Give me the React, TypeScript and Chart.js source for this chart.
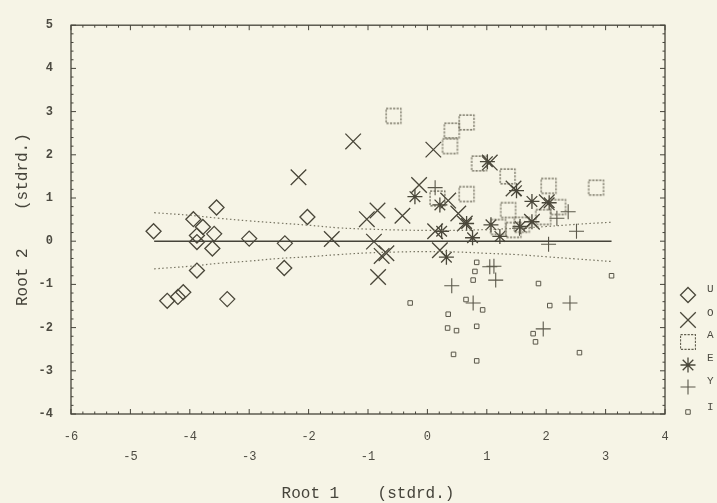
import React, { useEffect, useRef } from "react";
import { Chart, registerables } from "chart.js";

Chart.register(...registerables);

// ---- Data ----
const uX = [-4.61, -3.94, -3.78, -3.55, -3.88, -3.88, -3.59, -3.62, -3.0, -2.4, -2.02, -3.88, -2.41, -4.38, -4.2, -4.11, -3.37];
const uY = [0.23, 0.51, 0.33, 0.78, 0.13, -0.02, 0.17, -0.17, 0.06, -0.05, 0.56, -0.68, -0.62, -1.38, -1.29, -1.18, -1.34];

const oX = [-1.25, -2.17, -1.61, -1.02, -0.84, -0.42, -0.9, -0.77, -0.69, -0.83, -0.14, 0.1, 0.13, 0.21, 0.35, 0.52, 0.63, 1.45, 1.76, 2.01, 1.05];
const oY = [2.31, 1.48, 0.05, 0.51, 0.71, 0.59, -0.01, -0.34, -0.28, -0.83, 1.3, 2.12, 0.23, -0.21, 0.94, 0.64, 0.41, 1.22, 0.45, 0.9, 1.82];

const aX = [-0.57, 0.41, 0.66, 0.38, 0.87, 1.35, 0.66, 0.17, 1.36, 2.04, 2.84, 2.2, 1.45, 1.19, 1.95, 1.59];
const aY = [2.9, 2.56, 2.75, 2.2, 1.8, 1.5, 1.09, 0.99, 0.72, 1.28, 1.24, 0.79, 0.26, 0.33, 0.56, 0.38];

const eX = [-0.21, 0.21, 0.24, 0.32, 0.66, 0.76, 1.01, 1.07, 1.22, 1.5, 1.76, 2.05, 1.76, 1.56];
const eY = [1.03, 0.84, 0.23, -0.37, 0.41, 0.08, 1.84, 0.38, 0.11, 1.17, 0.92, 0.89, 0.45, 0.34];

const yX = [0.13, 2.18, 2.37, 2.51, 2.04, 1.05, 1.12, 0.41, 1.15, 0.77, 2.4, 1.95, 1.55];
const yY = [1.24, 0.53, 0.68, 0.23, -0.07, -0.59, -0.58, -1.03, -0.9, -1.43, -1.43, -2.03, 0.3];

const iX = [0.83, 0.8, 0.77, 1.87, 3.1, -0.29, 0.65, 0.93, 2.06, 0.35, 0.34, 0.49, 0.83, 1.78, 1.82, 0.44, 0.83, 2.56];
const iY = [-0.49, -0.7, -0.9, -0.98, -0.8, -1.43, -1.35, -1.59, -1.49, -1.69, -2.01, -2.07, -1.97, -2.14, -2.33, -2.62, -2.77, -2.58];

// regression line and confidence band
const lineX = [-4.6, 3.1];
const lineY = [0, 0];
const bandX = [-4.6, -4, -3.5, -3, -2.5, -2, -1.5, -1, -0.5, 0, 0.5, 1, 1.5, 2, 2.5, 3.1];
const bandUpper = [0.66, 0.6, 0.53, 0.47, 0.42, 0.37, 0.31, 0.28, 0.26, 0.25, 0.25, 0.27, 0.3, 0.34, 0.39, 0.44];
const bandLower = [-0.64, -0.58, -0.51, -0.46, -0.4, -0.36, -0.31, -0.27, -0.25, -0.24, -0.25, -0.28, -0.31, -0.36, -0.41, -0.47];

const groupLabels = ["U", "O", "A", "E", "Y", "I"];
const xTickValues = [-6, -5, -4, -3, -2, -1, 0, 1, 2, 3, 4];
const yTickValues = [5, 4, 3, 2, 1, 0, -1, -2, -3, -4];

const BG = "#f6f4e6";
const INK = "#4a473a";
const TEXT = "#4d4b42";

const pts = (xs: number[], ys: number[]) => xs.map((x, i) => ({ x, y: ys[i] }));

const markerDefs = [
  { style: "rectRot", r: 7.5, color: INK, w: 1.3 },
  { style: "crossRot", r: 11, color: INK, w: 1.3 },
  { style: "dashRect", r: 10.5, color: "#625f4f", w: 1.1 },
  { style: "star", r: 7.5, color: INK, w: 1.3 },
  { style: "cross", r: 7.5, color: "#5a574a", w: 1.1 },
  { style: "rect", r: 3.2, color: "#5a574a", w: 1 },
];

function drawMarker(ctx: CanvasRenderingContext2D, style: string, x: number, y: number, r: number) {
  ctx.beginPath();
  const d = r * Math.SQRT1_2;
  if (style === "rectRot") {
    ctx.moveTo(x, y - r);
    ctx.lineTo(x + r, y);
    ctx.lineTo(x, y + r);
    ctx.lineTo(x - r, y);
    ctx.closePath();
  } else if (style === "crossRot") {
    ctx.moveTo(x - d, y - d);
    ctx.lineTo(x + d, y + d);
    ctx.moveTo(x - d, y + d);
    ctx.lineTo(x + d, y - d);
  } else if (style === "rect" || style === "dashRect") {
    if (style === "dashRect") ctx.setLineDash([2.2, 1.3]);
    ctx.rect(x - d, y - d, 2 * d, 2 * d);
  } else if (style === "star") {
    ctx.moveTo(x - d, y - d);
    ctx.lineTo(x + d, y + d);
    ctx.moveTo(x - d, y + d);
    ctx.lineTo(x + d, y - d);
    ctx.moveTo(x, y - r);
    ctx.lineTo(x, y + r);
    ctx.moveTo(x - r, y);
    ctx.lineTo(x + r, y);
  } else if (style === "cross") {
    ctx.moveTo(x, y - r);
    ctx.lineTo(x, y + r);
    ctx.moveTo(x - r, y);
    ctx.lineTo(x + r, y);
  }
  ctx.stroke();
  ctx.setLineDash([]);
}

function makeDashedSquare(r: number, color: string, w: number): HTMLCanvasElement {
  const size = Math.ceil(2 * r * Math.SQRT1_2 + 4);
  const c = document.createElement("canvas");
  c.width = size;
  c.height = size;
  const g = c.getContext("2d")!;
  g.strokeStyle = color;
  g.lineWidth = w;
  drawMarker(g, "dashRect", size / 2, size / 2, r);
  return c;
}

const framePlugin = {
  id: "frameTicks",
  afterDraw(chart: any) {
    const { ctx, chartArea } = chart;
    const { left, right, top, bottom } = chartArea;
    const xs = chart.scales.x;
    const ys = chart.scales.y;
    ctx.save();
    ctx.strokeStyle = "#46443a";
    ctx.lineWidth = 1.3;
    ctx.strokeRect(left, top, right - left, bottom - top);
    ctx.lineWidth = 1;
    ctx.beginPath();
    for (let i = -30; i <= 20; i++) {
      const px = xs.getPixelForValue(i / 5);
      const len = i % 5 === 0 ? 5 : 2.5;
      ctx.moveTo(px, bottom);
      ctx.lineTo(px, bottom - len);
      ctx.moveTo(px, top);
      ctx.lineTo(px, top + len);
    }
    for (let i = -20; i <= 25; i++) {
      const py = ys.getPixelForValue(i / 5);
      const len = i % 5 === 0 ? 5 : 2.5;
      ctx.moveTo(left, py);
      ctx.lineTo(left + len, py);
      ctx.moveTo(right, py);
      ctx.lineTo(right - len, py);
    }
    ctx.stroke();

    // legend
    const symX = 688;
    const symY = [295, 320, 342, 365, 387, 412];
    const txtY = [289, 313, 335, 358, 381, 407];
    markerDefs.forEach((m, i) => {
      ctx.strokeStyle = m.color;
      ctx.lineWidth = m.w;
      drawMarker(ctx, m.style, symX, symY[i], m.r);
      ctx.fillStyle = TEXT;
      ctx.font = "11px 'Liberation Mono'";
      ctx.textAlign = "left";
      ctx.textBaseline = "middle";
      ctx.fillText(groupLabels[i], 707, txtY[i]);
    });
    ctx.restore();
  },
};

export default function App() {
  const ref = useRef<HTMLCanvasElement | null>(null);
  useEffect(() => {
    if (!ref.current) return;
    const dashedSquare = makeDashedSquare(markerDefs[2].r, markerDefs[2].color, markerDefs[2].w);
    const scatterSets = [
      [uX, uY],
      [oX, oY],
      [aX, aY],
      [eX, eY],
      [yX, yY],
      [iX, iY],
    ].map(([xs, ys], i) => ({
      type: "scatter" as const,
      label: groupLabels[i],
      data: pts(xs, ys),
      pointStyle: markerDefs[i].style === "dashRect" ? dashedSquare : markerDefs[i].style,
      pointRadius: markerDefs[i].r,
      pointHoverRadius: markerDefs[i].r,
      pointBorderColor: markerDefs[i].color,
      pointBackgroundColor: "rgba(0,0,0,0)",
      pointBorderWidth: markerDefs[i].w,
      showLine: false,
    }));
    const chart = new Chart(ref.current, {
      type: "scatter",
      data: {
        datasets: [
          {
            type: "line",
            label: "fit",
            data: pts(lineX, lineY),
            borderColor: "#46443a",
            borderWidth: 1.4,
            pointRadius: 0,
            fill: false,
          } as any,
          {
            type: "line",
            label: "upper",
            data: pts(bandX, bandUpper),
            borderColor: "#777462",
            borderWidth: 1.2,
            borderDash: [1.5, 2.5],
            pointRadius: 0,
            tension: 0.4,
            fill: false,
          },
          {
            type: "line",
            label: "lower",
            data: pts(bandX, bandLower),
            borderColor: "#777462",
            borderWidth: 1.2,
            borderDash: [1.5, 2.5],
            pointRadius: 0,
            tension: 0.4,
            fill: false,
          },
          ...scatterSets,
        ] as any,
      },
      options: {
        responsive: false,
        animation: false,
        layout: { padding: { top: 15, right: 52, left: 0, bottom: 0 } },
        plugins: { legend: { display: false }, tooltip: { enabled: false } },
        scales: {
          x: {
            type: "linear",
            min: -6,
            max: 4,
            afterBuildTicks: (s: any) => {
              s.ticks = xTickValues.map((v) => ({ value: v }));
            },
            afterFit: (s: any) => {
              s.height = 89;
            },
            grid: { display: false, drawTicks: false },
            border: { display: false },
            ticks: {
              padding: 13,
              color: TEXT,
              font: { family: "'Liberation Mono'", size: 12, lineHeight: "20px" },
              maxRotation: 0,
              autoSkip: false,
              callback: (v: any) => (Math.abs(v) % 2 === 1 ? ["", String(v)] : String(v)),
            },
            title: {
              display: true,
              text: "Root 1    (stdrd.)",
              color: "#46443b",
              font: { family: "'Liberation Mono'", size: 16 },
              padding: { top: 0, bottom: 0 },
            },
          },
          y: {
            type: "linear",
            min: -4,
            max: 5,
            afterBuildTicks: (s: any) => {
              s.ticks = yTickValues.map((v) => ({ value: v }));
            },
            afterFit: (s: any) => {
              s.width = 71;
            },
            grid: { display: false, drawTicks: false },
            border: { display: false },
            ticks: {
              padding: 18,
              color: TEXT,
              font: { family: "'Liberation Mono'", size: 12, weight: "bold" },
              autoSkip: false,
            },
            title: {
              display: true,
              text: "Root 2    (stdrd.)",
              color: "#46443b",
              font: { family: "'Liberation Mono'", size: 16 },
              padding: { top: 13, bottom: 0 },
            },
          },
        },
      },
      plugins: [framePlugin],
    } as any);
    return () => chart.destroy();
  }, []);
  return (
    <div style={{ position: "fixed", left: 0, top: 0, width: 717, height: 503, background: BG }}>
      <canvas ref={ref} width={717} height={503} />
    </div>
  );
}
